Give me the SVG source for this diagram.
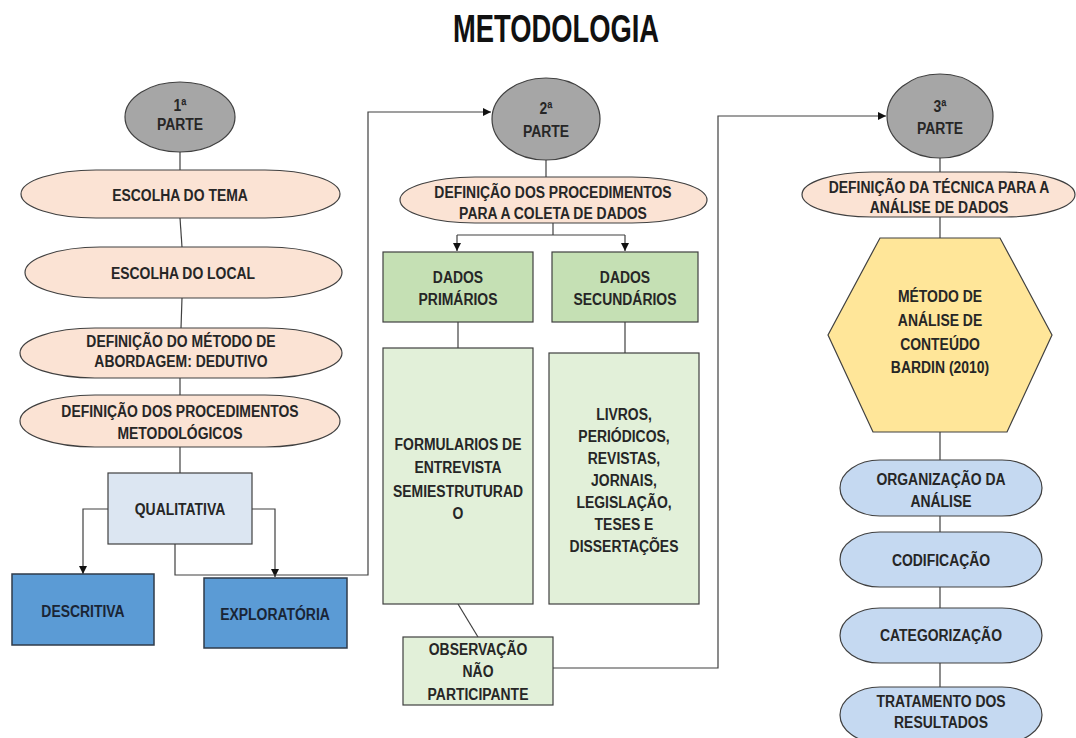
<svg xmlns="http://www.w3.org/2000/svg" width="1076" height="738" viewBox="0 0 1076 738">
<style>
text{font-family:"Liberation Sans",Arial,sans-serif;font-weight:bold;font-size:17px;fill:#262626;text-anchor:middle}
.title{font-size:38px;fill:#111}
.part{fill:#A6A6A6;stroke:#404040;stroke-width:1.2}
.peach{fill:#FBE3D4;stroke:#404040;stroke-width:1.2}
.qual{fill:#DCE6F2;stroke:#404040;stroke-width:1.2}
.dblue{fill:#5B9BD5;stroke:#2F3B4A;stroke-width:1.5}
.dtext{fill:#1A2535}
.green{fill:#C5E0B4;stroke:#404040;stroke-width:1.2}
.lgreen{fill:#E2F0D9;stroke:#404040;stroke-width:1.2}
.hex{fill:#FFE699;stroke:#404040;stroke-width:1.2}
.lblue{fill:#C5D9F1;stroke:#404040;stroke-width:1.2}
.conn{fill:none;stroke:#404040;stroke-width:1.2}
</style>
<defs>
<marker id="arr" markerUnits="userSpaceOnUse" markerWidth="9" markerHeight="9" refX="8" refY="4" orient="auto">
<path d="M0,0 L8,4 L0,8 z" fill="#111"/>
</marker>
</defs>
<rect width="1076" height="738" fill="#fff"/>
<text class="title" transform="matrix(.72 0 0 1 556 0)" y="42">METODOLOGIA</text>

<g id="connectors">
<path class="conn" d="M180,152 V170"/>
<path class="conn" d="M180,218 L182,247"/>
<path class="conn" d="M182,298 L181,328"/>
<path class="conn" d="M180,378 V395"/>
<path class="conn" d="M180,447 V473"/>
<path class="conn" d="M108,509 H83 V574" marker-end="url(#arr)"/>
<path class="conn" d="M252,509 H275 V577" marker-end="url(#arr)"/>
<path class="conn" d="M175,544 V575 H368 V112 H491" marker-end="url(#arr)"/>
<path class="conn" d="M546,160 V177"/>
<path class="conn" d="M553,223 V235"/>
<path class="conn" d="M457,235 H625"/>
<path class="conn" d="M457,235 V251" marker-end="url(#arr)"/>
<path class="conn" d="M625,235 V251" marker-end="url(#arr)"/>
<path class="conn" d="M458,322 V348"/>
<path class="conn" d="M625,322 V353"/>
<path class="conn" d="M458,604 L478,637"/>
<path class="conn" d="M553,668 H718 V116 H886" marker-end="url(#arr)"/>
<path class="conn" d="M940,158 V172"/>
<path class="conn" d="M940,217 V238"/>
<path class="conn" d="M940,432 V460"/>
<path class="conn" d="M940,516 V532"/>
<path class="conn" d="M940,587 V608"/>
<path class="conn" d="M940,663 V687"/>
</g>

<g id="parte1">
<ellipse class="part" cx="180" cy="117" rx="55" ry="35"/>
<text transform="matrix(.82 0 0 1 180 0)" y="111">1ª</text>
<text transform="matrix(.82 0 0 1 180 0)" y="130">PARTE</text>
</g>
<g id="escolha-tema">
<rect class="peach" x="21" y="170" width="319" height="48" rx="75" ry="24"/>
<text transform="matrix(.82 0 0 1 180 0)" y="201">ESCOLHA DO TEMA</text>
</g>
<g id="escolha-local">
<rect class="peach" x="25" y="247" width="317" height="51" rx="75" ry="25.5"/>
<text transform="matrix(.82 0 0 1 183 0)" y="279">ESCOLHA DO LOCAL</text>
</g>
<g id="metodo-abordagem">
<rect class="peach" x="20" y="328" width="322" height="50" rx="75" ry="25"/>
<text transform="matrix(.82 0 0 1 181 0)" y="347">DEFINIÇÃO DO MÉTODO DE</text>
<text transform="matrix(.82 0 0 1 181 0)" y="367">ABORDAGEM: DEDUTIVO</text>
</g>
<g id="proc-metodologicos">
<rect class="peach" x="20" y="395" width="320" height="52" rx="75" ry="26"/>
<text transform="matrix(.82 0 0 1 180 0)" y="417">DEFINIÇÃO DOS PROCEDIMENTOS</text>
<text transform="matrix(.82 0 0 1 180 0)" y="439">METODOLÓGICOS</text>
</g>
<g id="qualitativa">
<rect class="qual" x="108" y="473" width="144" height="71"/>
<text transform="matrix(.82 0 0 1 180 0)" y="515">QUALITATIVA</text>
</g>
<g id="descritiva">
<rect class="dblue" x="12" y="574" width="142" height="71"/>
<text class="dtext" transform="matrix(.82 0 0 1 83 0)" y="617">DESCRITIVA</text>
</g>
<g id="exploratoria">
<rect class="dblue" x="204" y="578" width="143" height="70"/>
<text class="dtext" transform="matrix(.82 0 0 1 275 0)" y="620">EXPLORATÓRIA</text>
</g>

<g id="parte2">
<ellipse class="part" cx="546" cy="119" rx="54" ry="41"/>
<text transform="matrix(.82 0 0 1 546 0)" y="114">2ª</text>
<text transform="matrix(.82 0 0 1 546 0)" y="137">PARTE</text>
</g>
<g id="proc-coleta">
<rect class="peach" x="400" y="177" width="307" height="46" rx="75" ry="23"/>
<text transform="matrix(.82 0 0 1 553 0)" y="198">DEFINIÇÃO DOS PROCEDIMENTOS</text>
<text transform="matrix(.82 0 0 1 553 0)" y="219">PARA A COLETA DE DADOS</text>
</g>
<g id="dados-primarios">
<rect class="green" x="383" y="252" width="150" height="70"/>
<text transform="matrix(.82 0 0 1 458 0)" y="283">DADOS</text>
<text transform="matrix(.82 0 0 1 458 0)" y="305">PRIMÁRIOS</text>
</g>
<g id="dados-secundarios">
<rect class="green" x="552" y="252" width="146" height="70"/>
<text transform="matrix(.82 0 0 1 625 0)" y="283">DADOS</text>
<text transform="matrix(.82 0 0 1 625 0)" y="305">SECUNDÁRIOS</text>
</g>
<g id="formularios">
<rect class="lgreen" x="383" y="348" width="150" height="256"/>
<text transform="matrix(.82 0 0 1 458 0)" y="450">FORMULARIOS DE</text>
<text transform="matrix(.82 0 0 1 458 0)" y="473">ENTREVISTA</text>
<text transform="matrix(.82 0 0 1 458 0)" y="497">SEMIESTRUTURAD</text>
<text transform="matrix(.82 0 0 1 458 0)" y="519">O</text>
</g>
<g id="livros">
<rect class="lgreen" x="549" y="353" width="150" height="251"/>
<text transform="matrix(.82 0 0 1 624 0)" y="420">LIVROS,</text>
<text transform="matrix(.82 0 0 1 624 0)" y="442">PERIÓDICOS,</text>
<text transform="matrix(.82 0 0 1 624 0)" y="464">REVISTAS,</text>
<text transform="matrix(.82 0 0 1 624 0)" y="486">JORNAIS,</text>
<text transform="matrix(.82 0 0 1 624 0)" y="508">LEGISLAÇÃO,</text>
<text transform="matrix(.82 0 0 1 624 0)" y="530">TESES E</text>
<text transform="matrix(.82 0 0 1 624 0)" y="552">DISSERTAÇÕES</text>
</g>
<g id="observacao">
<rect class="lgreen" x="403" y="637" width="150" height="68"/>
<text transform="matrix(.82 0 0 1 478 0)" y="655">OBSERVAÇÃO</text>
<text transform="matrix(.82 0 0 1 478 0)" y="677">NÃO</text>
<text transform="matrix(.82 0 0 1 478 0)" y="700">PARTICIPANTE</text>
</g>

<g id="parte3">
<ellipse class="part" cx="940" cy="116" rx="53" ry="42"/>
<text transform="matrix(.82 0 0 1 940 0)" y="112">3ª</text>
<text transform="matrix(.82 0 0 1 940 0)" y="134">PARTE</text>
</g>
<g id="tecnica-analise">
<rect class="peach" x="802" y="172" width="273" height="45" rx="70" ry="22.5"/>
<text transform="matrix(.82 0 0 1 939 0)" y="193">DEFINIÇÃO DA TÉCNICA PARA A</text>
<text transform="matrix(.82 0 0 1 939 0)" y="213">ANÁLISE DE DADOS</text>
</g>
<g id="bardin">
<polygon class="hex" points="880,238 1000,238 1052,335 1007,432 873,432 828,335"/>
<text transform="matrix(.82 0 0 1 940 0)" y="302">MÉTODO DE</text>
<text transform="matrix(.82 0 0 1 940 0)" y="326">ANÁLISE DE</text>
<text transform="matrix(.82 0 0 1 940 0)" y="350">CONTEÚDO</text>
<text transform="matrix(.82 0 0 1 940 0)" y="373">BARDIN (2010)</text>
</g>
<g id="organizacao">
<rect class="lblue" x="840" y="460" width="202" height="56" rx="40" ry="28"/>
<text transform="matrix(.82 0 0 1 941 0)" y="485">ORGANIZAÇÃO  DA</text>
<text transform="matrix(.82 0 0 1 941 0)" y="507">ANÁLISE</text>
</g>
<g id="codificacao">
<rect class="lblue" x="840" y="532" width="202" height="55" rx="40" ry="27.5"/>
<text transform="matrix(.82 0 0 1 941 0)" y="566">CODIFICAÇÃO</text>
</g>
<g id="categorizacao">
<rect class="lblue" x="840" y="608" width="202" height="55" rx="40" ry="27.5"/>
<text transform="matrix(.82 0 0 1 941 0)" y="641">CATEGORIZAÇÃO</text>
</g>
<g id="tratamento">
<rect class="lblue" x="840" y="687" width="202" height="56" rx="40" ry="28"/>
<text transform="matrix(.82 0 0 1 941 0)" y="707">TRATAMENTO DOS</text>
<text transform="matrix(.82 0 0 1 941 0)" y="728">RESULTADOS</text>
</g>
</svg>
